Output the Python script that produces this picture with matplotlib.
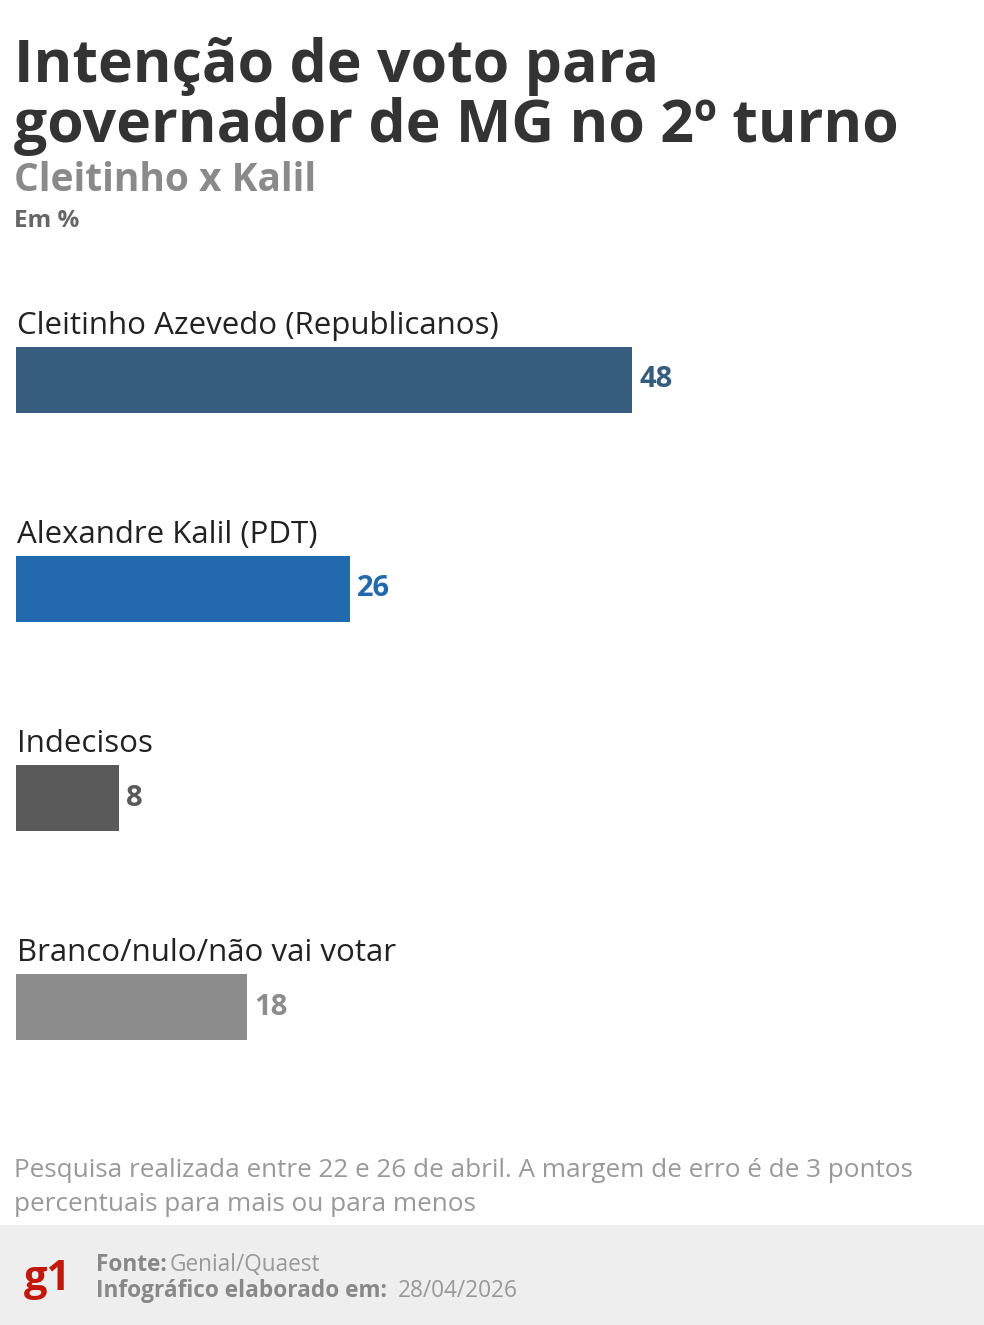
import matplotlib.pyplot as plt
from matplotlib.patches import Rectangle

categories = ["Cleitinho Azevedo (Republicanos)", "Alexandre Kalil (PDT)",
              "Indecisos", "Branco/nulo/não vai votar"]
values = [48, 26, 8, 18]
colors = ["#365d7e", "#2369ad", "#5a5a5a", "#8c8c8c"]

W, H = 984, 1325
fig = plt.figure(figsize=(W / 100, H / 100), dpi=100)
plt.rcParams['font.family'] = ['Open Sans', 'DejaVu Sans']

def fy(py):
    return 1 - py / H

# bars axes: x from px 16 to 984, y px 280..1080
ax = fig.add_axes([16 / W, fy(1080), (W - 16) / W, 800 / H])
ax.set_xlim(0, (W - 16) / 12.83)
ax.set_ylim(3.349, -0.478)
ax.axis('off')
ypos = list(range(len(values)))
ax.barh(ypos, values, height=0.316, color=colors)
for i, (c, v) in enumerate(zip(categories, values)):
    ax.text(0.1, i - 0.185, c, fontsize=22.5, color="#222222", va='bottom')
    ax.text(v + 0.6, i, str(v), fontsize=21, fontweight='bold', color=colors[i], va='center')

fig.text(14 / W, fy(82), "Intenção de voto para", fontsize=42.5, fontweight='bold', color="#333333")
fig.text(14 / W, fy(142), "governador de MG no 2º turno", fontsize=42.5, fontweight='bold', color="#333333")
fig.text(14 / W, fy(191), "Cleitinho x Kalil", fontsize=28, fontweight='bold', color="#8a8a8a")
fig.text(14 / W, fy(227), "Em %", fontsize=17.5, fontweight='bold', color="#666666")

fig.text(14 / W, fy(1177), "Pesquisa realizada entre 22 e 26 de abril. A margem de erro é de 3 pontos",
         fontsize=18.8, color="#999999")
fig.text(14 / W, fy(1211), "percentuais para mais ou para menos", fontsize=18.8, color="#999999")

fig.patches.append(Rectangle((0, 0), 1, 100 / H, transform=fig.transFigure,
                             color="#eeeeee", zorder=0))
fig.text(24 / W, fy(1290), "g1", fontsize=30, fontweight='bold', color="#c4170c")
fig.text(96 / W, fy(1271), "Fonte:", fontsize=16.3, fontweight='bold', color="#888888")
fig.text(170 / W, fy(1271), "Genial/Quaest", fontsize=16.3, color="#999999")
fig.text(96 / W, fy(1297), "Infográfico elaborado em:", fontsize=16.3, fontweight='bold', color="#888888")
fig.text(398 / W, fy(1297), "28/04/2026", fontsize=16.3, color="#999999")

fig.savefig("out.png", dpi=100)
